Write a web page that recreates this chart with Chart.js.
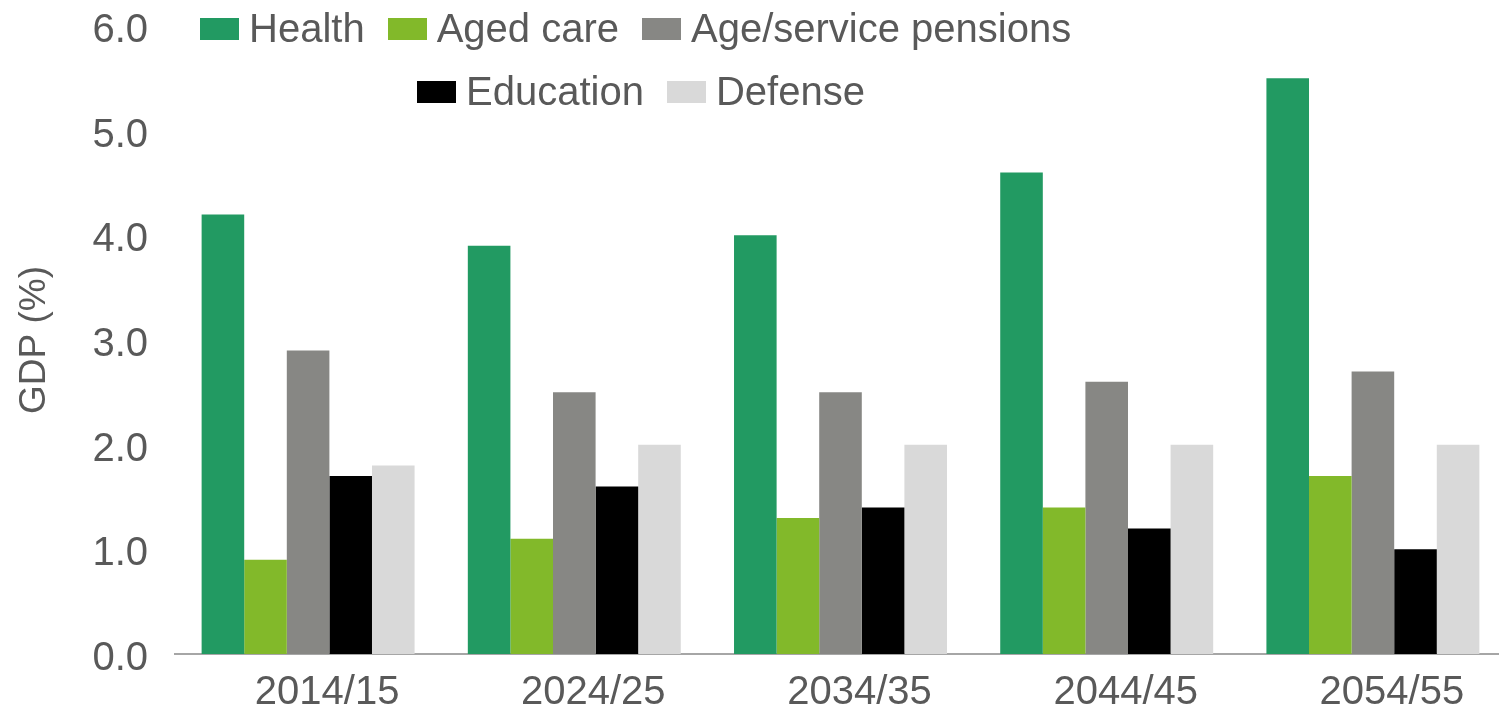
<!DOCTYPE html>
<html>
<head>
<meta charset="utf-8">
<script src="https://cdn.jsdelivr.net/npm/chart.js@4"></script>
<style>
  html, body { margin: 0; padding: 0; background: #fff; overflow: hidden; }
  #wrap { position: relative; width: 1510px; height: 714px; }
  #legend { position: absolute; top: -3px; left: 0; font-family: "Liberation Sans", Arial, sans-serif; font-size: 40px; color: #595959; }
  .row { display: flex; height: 63px; align-items: center; white-space: nowrap; }
  .item { display: flex; align-items: center; margin-right: 23px; }
  .box { width: 39px; height: 22px; margin-right: 10px; }
</style>
</head>
<body>
<div id="wrap">
  <canvas id="c" width="1510" height="714"></canvas>
  <div id="legend"></div>
</div>
<script>
// values in % of GDP
const years = ['2014/15', '2024/25', '2034/35', '2044/45', '2054/55'];
const health    = [4.2, 3.9, 4.0, 4.6, 5.5];
const agedCare  = [0.9, 1.1, 1.3, 1.4, 1.7];
const pensions  = [2.9, 2.5, 2.5, 2.6, 2.7];
const education = [1.7, 1.6, 1.4, 1.2, 1.0];
const defense   = [1.8, 2.0, 2.0, 2.0, 2.0];
const yTicks = [0, 1, 2, 3, 4, 5, 6];

const FONT = '"Liberation Sans", Arial, sans-serif';
const TXT = '#595959';

const series = [
  { label: 'Health', data: health, color: '#229A62' },
  { label: 'Aged care', data: agedCare, color: '#82B92A' },
  { label: 'Age/service pensions', data: pensions, color: '#878784' },
  { label: 'Education', data: education, color: '#000000' },
  { label: 'Defense', data: defense, color: '#D9D9D9' },
];

const chart = new Chart(document.getElementById('c'), {
  type: 'bar',
  data: {
    labels: years,
    datasets: series.map(s => ({
      label: s.label, data: s.data, backgroundColor: s.color,
      borderWidth: 0, categoryPercentage: 0.8, barPercentage: 1.0,
    })),
  },
  options: {
    responsive: false,
    animation: false,
    layout: { padding: { top: 26, right: 4, left: 0, bottom: 0 } },
    plugins: { legend: { display: false }, tooltip: { enabled: false } },
    scales: {
      x: {
        afterFit: s => { s.height = 60; },
        grid: { display: false, drawTicks: false },
        border: { display: true, color: '#a6a6a6', width: 2 },
        ticks: { color: TXT, font: { family: FONT, size: 40 }, labelOffset: 19, padding: 15, maxRotation: 0 },
      },
      y: {
        min: 0, max: 6,
        afterFit: s => { s.width = 175; },
        afterBuildTicks: s => { s.ticks = yTicks.map(v => ({ value: v })); },
        // tick marks are hidden; their length only keeps labels off the bars
        grid: { display: false, drawTicks: true, tickLength: 27 },
        border: { display: false },
        ticks: { color: TXT, font: { family: FONT, size: 40 }, padding: 0, labelOffset: 5,
                 callback: v => Number(v).toFixed(1) },
        title: { display: true, text: 'GDP (%)', color: TXT, font: { family: FONT, size: 37 }, padding: { top: 13, bottom: 0 } },
      },
    },
  },
});

// legend in two rows, like the original
const legend = document.getElementById('legend');
[[[0, 1, 2], 200], [[3, 4], 417]].forEach(([idx, indent]) => {
  const row = document.createElement('div');
  row.className = 'row';
  row.style.paddingLeft = indent + 'px';
  idx.forEach(i => {
    const ds = chart.data.datasets[i];
    const item = document.createElement('div');
    item.className = 'item';
    const box = document.createElement('span');
    box.className = 'box';
    box.style.background = ds.backgroundColor;
    const t = document.createElement('span');
    t.textContent = ds.label;
    item.appendChild(box);
    item.appendChild(t);
    row.appendChild(item);
  });
  legend.appendChild(row);
});
</script>
</body>
</html>
